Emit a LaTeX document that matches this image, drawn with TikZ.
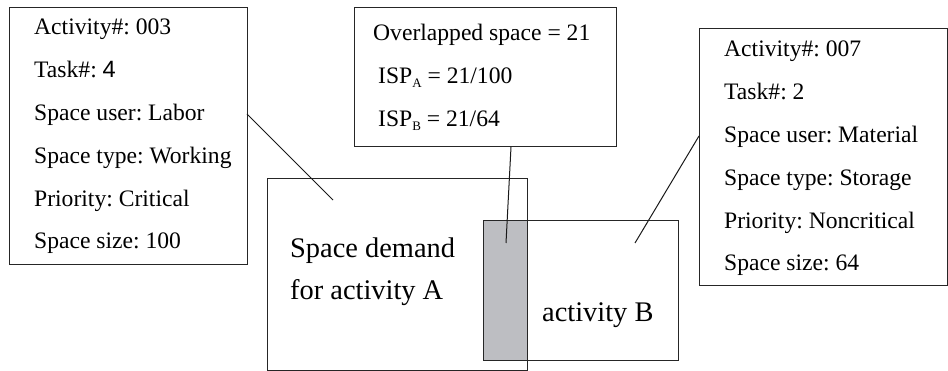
\documentclass[tikz,border=0pt]{standalone}
\usepackage{fontspec}
\setmainfont{Liberation Serif}
\newfontfamily\digitsans{Liberation Sans}
\frenchspacing
\definecolor{overlapgray}{HTML}{BDBEC2}
\newcommand{\lowsub}[1]{\raisebox{-3.5pt}{\fontsize{13}{13}\selectfont #1}}
\begin{document}
\begin{tikzpicture}[x=1pt,y=-1pt,
  frame/.style={draw=black!85,line width=1pt,inner sep=0pt,outer sep=0pt},
  txt/.style={anchor=base west,inner sep=0pt,font=\fontsize{23.6}{28}\selectfont},
  big/.style={anchor=base west,inner sep=0pt,font=\fontsize{28.4}{34}\selectfont},
  leader/.style={draw=black!90,line width=1pt}]
\useasboundingbox (0,0) rectangle (948,371);

% activity information boxes and the overlap summary
\draw[frame] (9,8) rectangle (247,265);
\draw[frame] (354,8) rectangle (616,147);
\draw[frame] (699,29) rectangle (947,286);

% space demand of activities A and B with shaded overlap
\fill[fill=overlapgray] (483,221) rectangle (527,361);
\draw[frame] (267,179) rectangle (527,370);
\draw[frame] (483,221) rectangle (678,361);

% activity 003
\node[txt] (a1) at (34,35) {Activity\#: 003};
\node[txt] (a2) at (34,77.8) {Task\#: {\digitsans 4}};
\node[txt] (a3) at (34,120.6) {Space user: Labor};
\node[txt] (a4) at (34,163.4) {Space type: Working};
\node[txt] (a5) at (34,206.2) {Priority: Critical};
\node[txt] (a6) at (34,249) {Space size: 100};

% overlap summary
\node[txt] (o1) at (373,41) {Overlapped space = 21};
\node[txt] (o2) at (378,84) {ISP\lowsub{A} = 21/100};
\node[txt] (o3) at (378,127) {ISP\lowsub{B} = 21/64};

% activity 007
\node[txt] (b1) at (724,57) {Activity\#: 007};
\node[txt] (b2) at (724,99.8) {Task\#: 2};
\node[txt] (b3) at (724,142.6) {Space user: Material};
\node[txt] (b4) at (724,185.4) {Space type: Storage};
\node[txt] (b5) at (724,228.2) {Priority: Noncritical};
\node[txt] (b6) at (724,271) {Space size: 64};

% region labels
\node[big] (d1) at (290,258) {Space demand};
\node[big] (d2) at (290,300) {for activity A};
\node[big] (d3) at (542,322) {activity B};

% leader lines
\coordinate (p1) at (247,114);
\coordinate (q1) at (333,200);
\coordinate (p2) at (511,147);
\coordinate (q2) at (506,243);
\coordinate (p3) at (699,136);
\coordinate (q3) at (635,243);
\draw[leader] (p1) -- (q1);
\draw[leader] (p2) -- (q2);
\draw[leader] (p3) -- (q3);
\end{tikzpicture}
\end{document}
